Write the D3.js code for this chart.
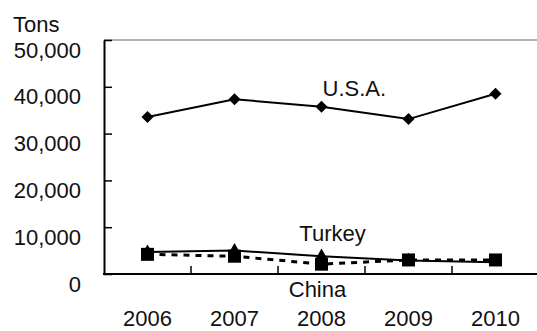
<!DOCTYPE html>
<html>
<head>
<meta charset="utf-8">
<script src="https://cdn.jsdelivr.net/npm/d3@7"></script>
<style>
  html, body { margin: 0; padding: 0; background: #fff; }
  svg { display: block; font-family: "Liberation Sans", Arial, sans-serif; }
</style>
</head>
<body>
<svg id="chart" width="537" height="331"></svg>
<script>
const years = ["2006", "2007", "2008", "2009", "2010"];
const usa = [33550, 37350, 35750, 33100, 38500];
const turkey = [4700, 5000, 3800, 2900, 2500];
const china = [4200, 3800, 2100, 3000, 3000];
const yTicks = [0, 10000, 20000, 30000, 40000, 50000];
const unitLabel = "Tons";
const seriesNames = ["U.S.A.", "Turkey", "China"];

const svg = d3.select("#chart");
const mLeft = 104, mRight = 539, mTop = 40, mBottom = 274;

const x = d3.scaleBand().domain(years).range([mLeft, mRight]).padding(0);
const y = d3.scaleLinear().domain([0, 50000]).range([mBottom, mTop]);
const cx = d => x(d) + x.bandwidth() / 2;

// top grey border
svg.append("line")
  .attr("x1", mLeft).attr("x2", mRight)
  .attr("y1", y(50000)).attr("y2", y(50000))
  .attr("stroke", "#9a9a9a").attr("stroke-width", 1.5);

// Y axis
const yAxis = svg.append("g")
  .attr("transform", `translate(${mLeft},0)`)
  .call(d3.axisLeft(y).tickValues(yTicks)
    .tickFormat(d => d === 0 ? "0" : d3.format(",")(d))
    .tickSizeInner(-8).tickSizeOuter(0).tickPadding(23));
yAxis.select(".domain").attr("stroke", "#000").attr("stroke-width", 2);
yAxis.selectAll(".tick line").attr("stroke", "#000").attr("stroke-width", 1.5);
yAxis.selectAll(".tick text")
  .attr("dy", null).attr("y", 17)
  .attr("font-size", 22).attr("fill", "#111")
  .style("font-family", "'Liberation Sans', Arial, sans-serif");

// X axis (labels)
const xAxis = svg.append("g")
  .attr("transform", `translate(0,${mBottom})`)
  .call(d3.axisBottom(x).tickSize(0).tickPadding(0));
xAxis.select(".domain").remove();
xAxis.selectAll(".tick text")
  .attr("dy", null).attr("y", 52)
  .attr("font-size", 22).attr("fill", "#111")
  .style("font-family", "'Liberation Sans', Arial, sans-serif");

// X axis line & ticks at band boundaries
svg.append("line")
  .attr("x1", mLeft - 1).attr("x2", mRight)
  .attr("y1", mBottom).attr("y2", mBottom)
  .attr("stroke", "#000").attr("stroke-width", 2);
svg.selectAll(".xtick").data(years.slice(1)).enter().append("line")
  .attr("class", "xtick")
  .attr("x1", d => x(d)).attr("x2", d => x(d))
  .attr("y1", mBottom).attr("y2", mBottom - 8)
  .attr("stroke", "#000").attr("stroke-width", 1.5);

// Unit label
svg.append("text")
  .attr("x", 13).attr("y", 32)
  .attr("font-size", 22).attr("fill", "#111")
  .text(unitLabel);

const line = d3.line().x((d, i) => cx(years[i])).y(d => y(d));

// USA
svg.append("path").datum(usa)
  .attr("d", line).attr("fill", "none")
  .attr("stroke", "#000").attr("stroke-width", 2);
svg.selectAll(".usa").data(usa).enter().append("path")
  .attr("class", "usa")
  .attr("d", d3.symbol().type(d3.symbolSquare).size(72))
  .attr("transform", (d, i) => `translate(${cx(years[i])},${y(d)}) rotate(45)`)
  .attr("fill", "#000");

// Turkey
svg.append("path").datum(turkey)
  .attr("d", line).attr("fill", "none")
  .attr("stroke", "#000").attr("stroke-width", 2);
svg.selectAll(".tur").data(turkey).enter().append("path")
  .attr("class", "tur")
  .attr("d", d3.symbol().type(d3.symbolTriangle).size(75))
  .attr("transform", (d, i) => `translate(${cx(years[i])},${y(d)})`)
  .attr("fill", "#000");

// China
svg.append("path").datum(china)
  .attr("d", line).attr("fill", "none")
  .attr("stroke", "#000").attr("stroke-width", 3)
  .attr("stroke-dasharray", "6,6");
svg.selectAll(".chn").data(china).enter().append("path")
  .attr("class", "chn")
  .attr("d", d3.symbol().type(d3.symbolSquare).size(169))
  .attr("transform", (d, i) => `translate(${cx(years[i])},${y(d)})`)
  .attr("fill", "#000");

// Series labels
svg.append("text").attr("x", cx("2008") + 1).attr("y", y(40000) + 9)
  .attr("font-size", 22).attr("fill", "#111").text(seriesNames[0]);
svg.append("text").attr("x", cx("2008") + 11).attr("y", y(7000))
  .attr("text-anchor", "middle")
  .attr("font-size", 22).attr("fill", "#111").text(seriesNames[1]);
svg.append("text").attr("x", cx("2008") - 4).attr("y", mBottom + 23)
  .attr("text-anchor", "middle")
  .attr("font-size", 22).attr("fill", "#111").text(seriesNames[2]);
</script>
</body>
</html>
